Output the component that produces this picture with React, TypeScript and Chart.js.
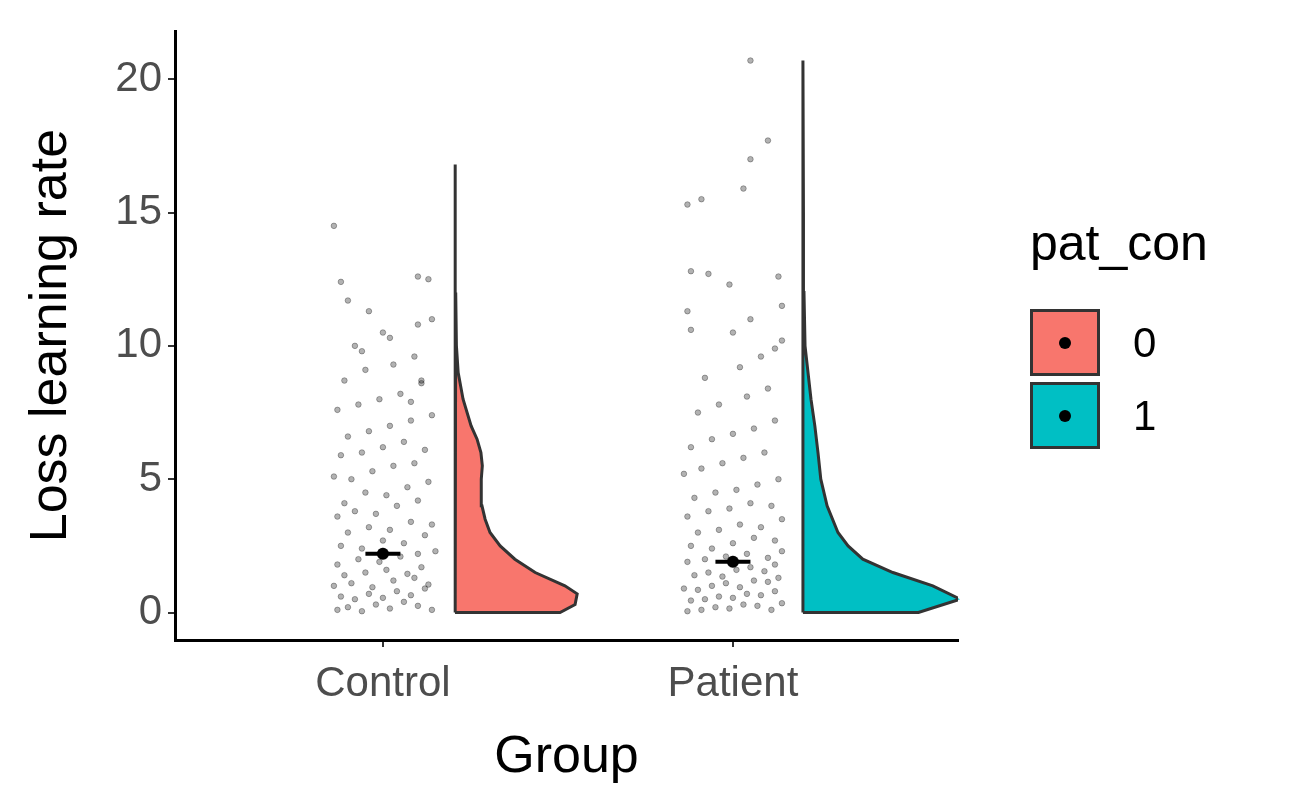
import { useEffect, useRef } from 'react';
import { Chart, registerables } from 'chart.js';

Chart.register(...registerables);

const groups = ['Control', 'Patient'];
const groupColors = ['#F8766D', '#00BFC4'];
const yTicks = [0, 5, 10, 15, 20];

// half-violin outline: y level and density width (x units)
const ctrlViolinY = [0, 0.3, 0.7, 1, 1.5, 2, 2.5, 3, 3.5, 4, 4.5, 5, 5.5, 6, 6.5, 7, 8, 9, 10, 12, 14, 16.8];
const ctrlViolinW = [0.3, 0.343, 0.349, 0.314, 0.229, 0.171, 0.129, 0.1, 0.086, 0.077, 0.075, 0.075, 0.078, 0.074, 0.063, 0.046, 0.023, 0.009, 0.004, 0.002, 0.0015, 0];
const patViolinY = [0, 0.5, 1, 1.5, 2, 2.5, 3, 4, 5, 6, 7, 8, 10, 12, 15, 20.7];
const patViolinW = [0.33, 0.449, 0.371, 0.257, 0.171, 0.129, 0.1, 0.069, 0.051, 0.043, 0.034, 0.023, 0.006, 0.003, 0.0015, 0];
const violinOffset = [0.206, 0.2];

// jittered raw points: horizontal jitter and value
const ctrlJitter = [-0.13, -0.1, -0.06, -0.02, 0.02, 0.06, 0.1, 0.14, -0.12, -0.08, -0.04, 0.0, 0.04, 0.08, 0.12, -0.14, -0.09, -0.03, 0.03, 0.09, 0.13, -0.11, -0.05, 0.01, 0.07, 0.11, -0.13, -0.07, -0.01, 0.05, 0.1, 0.15, -0.12, -0.06, 0.0, 0.06, 0.12, -0.1, -0.04, 0.02, 0.08, 0.14, -0.13, -0.08, -0.02, 0.04, 0.1, -0.11, -0.05, 0.01, 0.07, 0.13, -0.14, -0.09, -0.03, 0.03, 0.09, -0.12, -0.06, 0.0, 0.06, 0.12, -0.1, -0.04, 0.02, 0.08, 0.14, -0.13, -0.07, -0.01, 0.05, 0.11, -0.11, -0.05, 0.03, 0.09, -0.08, 0.0, 0.1, 0.14, -0.14, -0.12, -0.04, 0.1, 0.13, -0.1, 0.02, 0.11, -0.06, 0.08];
const ctrlVals = [0.1, 0.2, 0.05, 0.3, 0.15, 0.4, 0.25, 0.1, 0.6, 0.5, 0.7, 0.55, 0.8, 0.65, 0.9, 1.0, 1.1, 0.95, 1.2, 1.3, 1.05, 1.4, 1.5, 1.6, 1.45, 1.7, 1.8, 2.0, 1.9, 2.1, 2.2, 2.3, 2.5, 2.4, 2.7, 2.6, 2.9, 3.0, 3.2, 3.1, 3.4, 3.3, 3.6, 3.8, 3.7, 4.0, 4.2, 4.1, 4.5, 4.4, 4.7, 4.9, 5.1, 5.0, 5.3, 5.5, 5.6, 5.9, 6.0, 6.2, 6.4, 6.1, 6.6, 6.8, 7.0, 7.2, 7.4, 7.6, 7.8, 8.0, 8.2, 8.6, 8.7, 9.1, 9.3, 9.6, 10.0, 10.5, 10.8, 11.0, 14.5, 12.4, 11.3, 12.6, 12.5, 11.7, 10.3, 8.7, 9.8, 7.9];
const patJitter = [-0.13, -0.09, -0.05, -0.01, 0.03, 0.07, 0.11, 0.14, -0.12, -0.08, -0.04, 0.0, 0.04, 0.08, 0.12, -0.14, -0.1, -0.06, -0.02, 0.02, 0.06, 0.1, 0.13, -0.11, -0.07, -0.03, 0.01, 0.05, 0.09, 0.12, -0.13, -0.08, -0.02, 0.04, 0.1, 0.14, -0.12, -0.06, 0.0, 0.06, 0.12, -0.1, -0.04, 0.02, 0.08, 0.14, -0.13, -0.07, -0.01, 0.05, 0.11, -0.11, -0.05, 0.01, 0.07, 0.13, -0.14, -0.09, -0.03, 0.03, 0.09, -0.12, -0.06, 0.0, 0.06, 0.12, -0.1, -0.04, 0.04, 0.1, -0.08, 0.02, 0.08, 0.14, -0.12, 0.05, 0.14, 0.05, 0.1, 0.05, 0.03, -0.09, -0.13, -0.12, -0.07, -0.01, 0.13, -0.13, 0.0, 0.12];
const patVals = [0.05, 0.1, 0.2, 0.15, 0.3, 0.25, 0.1, 0.35, 0.45, 0.5, 0.6, 0.55, 0.7, 0.65, 0.8, 0.9, 0.85, 1.0, 1.1, 0.95, 1.2, 1.15, 1.3, 1.4, 1.5, 1.35, 1.6, 1.7, 1.55, 1.8, 1.9, 2.0, 2.1, 2.2, 2.05, 2.3, 2.5, 2.4, 2.6, 2.8, 2.7, 3.0, 3.1, 3.3, 3.2, 3.5, 3.6, 3.8, 3.9, 4.1, 4.0, 4.3, 4.5, 4.6, 4.8, 5.0, 5.2, 5.4, 5.6, 5.8, 6.0, 6.2, 6.5, 6.7, 6.9, 7.2, 7.5, 7.8, 8.1, 8.4, 8.8, 9.2, 9.6, 10.2, 10.6, 11.0, 11.5, 20.7, 17.7, 17.0, 15.9, 15.5, 15.3, 12.8, 12.7, 12.3, 12.6, 11.3, 10.5, 9.9];

const groupMeans = [2.2, 1.9];
const meanHalfWidth = 0.05;

const violinPoints = (center: number, offset: number, ys: number[], ws: number[]) => {
  const pts = ys.map((y, i) => ({ x: center + offset + ws[i], y }));
  return [{ x: center + offset, y: 0 }, ...pts, { x: center + offset, y: 0 }];
};

const violinFill = {
  id: 'violinFill',
  beforeDatasetsDraw(chart: any) {
    const ctx = chart.ctx;
    chart.data.datasets.forEach((ds: any, i: number) => {
      if (!ds.violinColor) return;
      const meta = chart.getDatasetMeta(i);
      ctx.save();
      ctx.beginPath();
      meta.data.forEach((p: any, j: number) => (j ? ctx.lineTo(p.x, p.y) : ctx.moveTo(p.x, p.y)));
      ctx.closePath();
      ctx.fillStyle = ds.violinColor;
      ctx.fill();
      ctx.restore();
    });
  },
};

export default function App() {
  const ref = useRef<HTMLCanvasElement | null>(null);

  useEffect(() => {
    if (!ref.current) return;
    const points = (c: number, jit: number[], vals: number[]) => vals.map((v, i) => ({ x: c + jit[i], y: v }));
    const chart = new Chart(ref.current, {
      type: 'scatter',
      data: {
        datasets: [
          ...[0, 1].map((g) => ({
            type: 'line' as const,
            data: violinPoints(g + 1, violinOffset[g], g ? patViolinY : ctrlViolinY, g ? patViolinW : ctrlViolinW),
            violinColor: groupColors[g],
            borderColor: '#333333',
            borderWidth: 3,
            pointRadius: 0,
            fill: false,
            tension: 0,
          })),
          {
            data: [...points(1, ctrlJitter, ctrlVals), ...points(2, patJitter, patVals)],
            backgroundColor: 'rgba(0,0,0,0.3)',
            borderColor: 'rgba(0,0,0,0.3)',
            borderWidth: 1,
            pointRadius: 2.8,
          },
          ...[0, 1].map((g) => ({
            type: 'line' as const,
            data: [
              { x: g + 1 - meanHalfWidth, y: groupMeans[g] },
              { x: g + 1 + meanHalfWidth, y: groupMeans[g] },
            ],
            borderColor: '#000',
            borderWidth: 4,
            pointRadius: 0,
          })),
          {
            data: groupMeans.map((m, g) => ({ x: g + 1, y: m })),
            backgroundColor: '#000',
            pointRadius: 6,
          },
        ] as any,
      },
      options: {
        animation: false,
        responsive: false,
        layout: { padding: { top: 22, right: 354, left: 0, bottom: 0 } },
        plugins: { legend: { display: false }, tooltip: { enabled: false } },
        scales: {
          x: {
            type: 'linear',
            min: 0.406,
            max: 2.643,
            afterBuildTicks: (s: any) => { s.ticks = [{ value: 1 }, { value: 2 }]; },
            afterFit: (s: any) => { s.height = 169; },
            ticks: {
              callback: (v: any) => groups[Number(v) - 1],
              color: '#4d4d4d',
              font: { family: 'Liberation Sans, Arial', size: 42 },
              padding: 12,
            },
            grid: { drawOnChartArea: false, drawTicks: true, tickLength: 7, color: '#333', lineWidth: 2 },
            border: { display: true, color: '#000', width: 3 },
            title: { display: true, text: 'Group', color: '#000', font: { family: 'Liberation Sans, Arial', size: 52 }, padding: { top: 0, bottom: 20 } },
          },
          y: {
            min: -1.03,
            max: 21.8,
            afterBuildTicks: (s: any) => { s.ticks = yTicks.map((v) => ({ value: v })); },
            afterFit: (s: any) => { s.width = 175; },
            ticks: { color: '#4d4d4d', font: { family: 'Liberation Sans, Arial', size: 42 }, padding: 6 },
            grid: { drawOnChartArea: false, drawTicks: true, tickLength: 7, color: '#333', lineWidth: 2 },
            border: { display: true, color: '#000', width: 3 },
            title: { display: true, text: 'Loss learning rate', color: '#000', font: { family: 'Liberation Sans, Arial', size: 52 }, padding: { top: 20, bottom: 8 } },
          },
        },
      },
      plugins: [violinFill],
    } as any);
    return () => chart.destroy();
  }, []);

  const legendFont = { fontFamily: 'Liberation Sans, Arial' };
  return (
    <div style={{ position: 'absolute', left: 0, top: 0, width: 1312, height: 809, background: '#fff' }}>
      <canvas ref={ref} width={1312} height={809} />
      <div style={{ position: 'absolute', left: 1030, top: 214, fontSize: 50, ...legendFont }}>pat_con</div>
      {['0', '1'].map((lab, i) => (
        <div key={lab} style={{ position: 'absolute', left: 1030, top: 309 + i * 73, display: 'flex', alignItems: 'center' }}>
          <div style={{ width: 64, height: 61, background: groupColors[i], border: '3px solid #333', display: 'flex', alignItems: 'center', justifyContent: 'center' }}>
            <div style={{ width: 12, height: 12, borderRadius: 6, background: '#000' }} />
          </div>
          <div style={{ marginLeft: 33, fontSize: 42, color: '#000', ...legendFont }}>{lab}</div>
        </div>
      ))}
    </div>
  );
}
